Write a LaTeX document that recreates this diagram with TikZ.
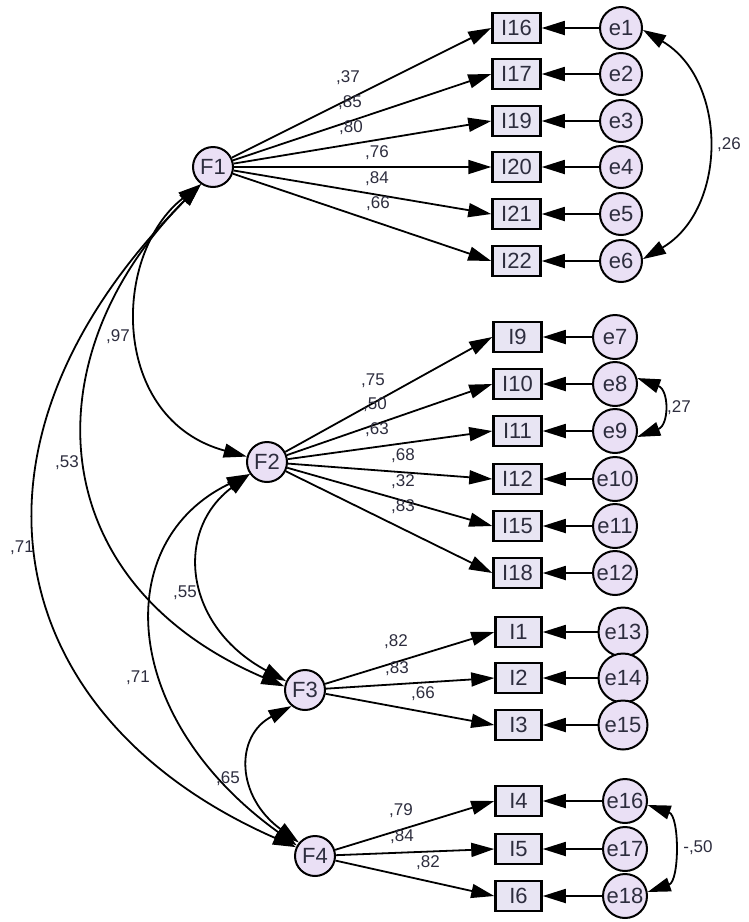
\documentclass[tikz,border=0pt]{standalone}
\usepackage{fontspec}
\setmainfont{Liberation Sans}
\usetikzlibrary{arrows.meta}
\definecolor{nodefill}{RGB}{234,224,245}
\definecolor{boxfill}{RGB}{232,229,243}
\definecolor{txt}{RGB}{45,45,62}
\begin{document}
\begin{tikzpicture}[x=1pt,y=-1pt,
 lat/.style={circle,draw=black,line width=2pt,fill=nodefill,minimum size=40pt,inner sep=0pt,font=\fontsize{22}{24}\selectfont,text=txt},
 err/.style={circle,draw=black,line width=2pt,fill=nodefill,minimum size=44pt,inner sep=0pt,font=\fontsize{22}{24}\selectfont,text=txt},
 obs/.style={rectangle,draw=black,line width=2.5pt,fill=boxfill,minimum width=48pt,minimum height=30pt,inner sep=0pt,font=\fontsize{22}{24}\selectfont,text=txt},
 tip/.tip={Triangle[length=23pt,width=14pt]},
 load/.style={-tip,line width=1.8pt},
 cov/.style={tip-tip,line width=1.8pt},
 val/.style={font=\fontsize{17}{19}\selectfont,text=txt,inner sep=0pt}
]
\useasboundingbox (0,0) rectangle (748,922);

% latent factors
\node[lat] (F1) at (213,167) {F1};
\node[lat] (F2) at (267,462) {F2};
\node[lat] (F3) at (305,690) {F3};
\node[lat] (F4) at (315,856) {F4};

% indicators group 1
\node[obs] (I16) at (516.5,28) {I16};
\node[obs] (I17) at (516.5,74) {I17};
\node[obs] (I19) at (516.5,121) {I19};
\node[obs] (I20) at (516.5,167) {I20};
\node[obs] (I21) at (516.5,214) {I21};
\node[obs] (I22) at (516.5,261) {I22};
% group 2
\node[obs] (I9) at (517.5,337) {I9};
\node[obs] (I10) at (517.5,384) {I10};
\node[obs] (I11) at (517.5,431) {I11};
\node[obs] (I12) at (517.5,479) {I12};
\node[obs] (I15) at (517.5,526) {I15};
\node[obs] (I18) at (517.5,573) {I18};
% group 3
\node[obs,minimum width=46pt] (I1) at (518.5,632) {I1};
\node[obs,minimum width=46pt] (I2) at (518.5,678) {I2};
\node[obs,minimum width=46pt] (I3) at (518.5,725) {I3};
% group 4
\node[obs,minimum width=46pt] (I4) at (518.5,801) {I4};
\node[obs,minimum width=46pt] (I5) at (518.5,849) {I5};
\node[obs,minimum width=46pt] (I6) at (518.5,896) {I6};

% error terms
\node[err,minimum size=42pt] (e1) at (621,28) {e1};
\node[err,minimum size=42pt] (e2) at (621,74) {e2};
\node[err,minimum size=42pt] (e3) at (621,121) {e3};
\node[err,minimum size=42pt] (e4) at (621,167) {e4};
\node[err,minimum size=42pt] (e5) at (621,214) {e5};
\node[err,minimum size=42pt] (e6) at (621,261) {e6};
\node[err] (e7) at (615,337) {e7};
\node[err] (e8) at (615,384) {e8};
\node[err] (e9) at (615,431) {e9};
\node[err] (e10) at (615,479) {e10};
\node[err] (e11) at (615,526) {e11};
\node[err] (e12) at (615,573) {e12};
\node[err,minimum size=49pt] (e13) at (623,632) {e13};
\node[err,minimum size=49pt] (e14) at (623,678) {e14};
\node[err,minimum size=49pt] (e15) at (623,725) {e15};
\node[err] (e16) at (625,801) {e16};
\node[err] (e17) at (625,849) {e17};
\node[err] (e18) at (625,896) {e18};

% loadings
\foreach \i in {I16,I17,I19,I20,I21,I22} \draw[load] (F1) -- (\i.west);
\foreach \i in {I9,I10,I11,I12,I15,I18} \draw[load] (F2) -- (\i.west);
\foreach \i in {I1,I2,I3} \draw[load] (F3) -- (\i.west);
\foreach \i in {I4,I5,I6} \draw[load] (F4) -- (\i.west);

% error paths
\foreach \e/\i in {e1/I16,e2/I17,e3/I19,e4/I20,e5/I21,e6/I22,e7/I9,e8/I10,e9/I11,e10/I12,e11/I15,e12/I18,e13/I1,e14/I2,e15/I3,e16/I4,e17/I5,e18/I6}
  \draw[load] (\e.west) -- (\i.east);

% factor covariances
\draw[cov] (F1.235) .. controls +(-90,70) and +(-137,-37) .. (F2.165);
\draw[cov] (F1.235) .. controls +(-170,170) and +(-246,-105) .. (F3.170);
\draw[cov] (F1.235) .. controls +(-260,260) and +(-296,-130) .. (F4.155);
\draw[cov] (F2.215) .. controls +(-76,57) and +(-102,-55) .. (F3.155);
\draw[cov] (F2.215) .. controls +(-140,67) and +(-178,-128) .. (F4.150);
\draw[cov] (F3.230) .. controls +(-57,30) and +(-63,-46) .. (F4.140);

% error covariances
\draw[cov] (e1.-5) .. controls +(85,50) and +(85,-50) .. (e6.5);
\draw[cov] (e8.15) .. controls +(32,12) and +(32,-12) .. (e9.-15);
\draw[cov] (e16.-10) .. controls +(32,11) and +(32,-11) .. (e18.10);

% loading values
\node[val] at (348,78) {,37};
\node[val] at (350,103) {,85};
\node[val] at (351,128) {,80};
\node[val] at (377,153) {,76};
\node[val] at (377,179) {,84};
\node[val] at (378,204) {,66};
\node[val] at (373,381) {,75};
\node[val] at (375,405) {,50};
\node[val] at (377,430) {,63};
\node[val] at (403,456) {,68};
\node[val] at (403,482) {,32};
\node[val] at (403,507) {,83};
\node[val] at (396,642) {,82};
\node[val] at (397,669) {,83};
\node[val] at (423,694) {,66};
\node[val] at (401,811) {,79};
\node[val] at (402,837) {,84};
\node[val] at (428,863) {,82};

% covariance values
\node[val] at (118,337) {,97};
\node[val] at (67,463) {,53};
\node[val] at (22,548) {,71};
\node[val] at (185,593) {,55};
\node[val] at (138,678) {,71};
\node[val] at (228,779) {,65};
\node[val] at (729,145) {,26};
\node[val] at (679,408) {,27};
\node[val] at (698,848) {-,50};
\end{tikzpicture}
\end{document}
